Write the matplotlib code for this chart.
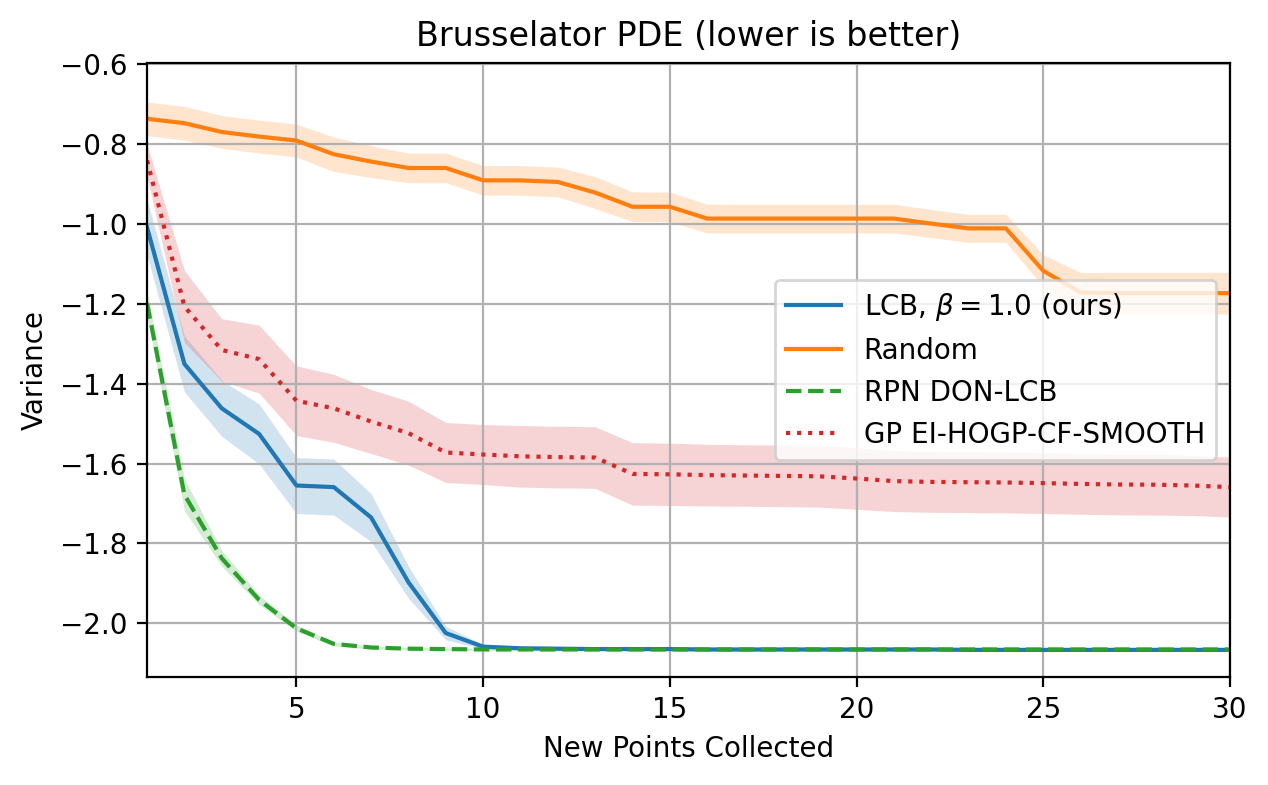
import matplotlib
matplotlib.use("Agg")
import matplotlib.pyplot as plt
import numpy as np

x = np.arange(1, 31)

lcb_mean = [-1.01, -1.351, -1.462, -1.526, -1.655, -1.659, -1.735, -1.897, -2.024, -2.058,
            -2.062, -2.063, -2.064, -2.064, -2.064, -2.065, -2.065, -2.065, -2.065, -2.065,
            -2.065, -2.065, -2.066, -2.066, -2.066, -2.066, -2.066, -2.066, -2.066, -2.066]
lcb_std = [0.07, 0.07, 0.07, 0.075, 0.07, 0.07, 0.06, 0.04, 0.017, 0.005,
           0.004, 0.004, 0.004, 0.004, 0.004, 0.004, 0.004, 0.004, 0.004, 0.004,
           0.004, 0.004, 0.004, 0.004, 0.004, 0.004, 0.004, 0.004, 0.004, 0.004]

rand_mean = [-0.738, -0.749, -0.771, -0.7825, -0.7925, -0.8267, -0.845, -0.861, -0.861, -0.892,
             -0.892, -0.896, -0.9225, -0.958, -0.958, -0.9875, -0.9875, -0.9875, -0.9875, -0.9875,
             -0.9875, -1.0, -1.012, -1.012, -1.118, -1.1725, -1.174, -1.174, -1.174, -1.174]
rand_std = [0.042, 0.042, 0.041, 0.041, 0.041, 0.043, 0.04, 0.037, 0.037, 0.037,
            0.037, 0.037, 0.04, 0.037, 0.037, 0.036, 0.036, 0.036, 0.036, 0.036,
            0.036, 0.035, 0.035, 0.035, 0.04, 0.05, 0.052, 0.052, 0.052, 0.052]

rpn_mean = [-1.2, -1.678, -1.837, -1.941, -2.012, -2.051, -2.06, -2.063, -2.064, -2.065,
            -2.065, -2.065, -2.065, -2.065, -2.065, -2.065, -2.065, -2.065, -2.065, -2.065,
            -2.065, -2.065, -2.065, -2.065, -2.065, -2.065, -2.065, -2.065, -2.065, -2.065]
rpn_std = [0.03, 0.04, 0.02, 0.012, 0.008, 0.005, 0.004, 0.003, 0.003, 0.003,
           0.003, 0.003, 0.003, 0.003, 0.003, 0.003, 0.003, 0.003, 0.003, 0.003,
           0.003, 0.003, 0.003, 0.003, 0.003, 0.003, 0.003, 0.003, 0.003, 0.003]

gp_mean = [-0.842, -1.2075, -1.316, -1.339, -1.443, -1.462, -1.495, -1.524, -1.5725, -1.5775,
           -1.582, -1.584, -1.585, -1.626, -1.627, -1.629, -1.630, -1.631, -1.632, -1.6375,
           -1.644, -1.646, -1.6467, -1.6475, -1.649, -1.651, -1.6525, -1.653, -1.655, -1.659]
gp_std = [0.04, 0.09, 0.078, 0.085, 0.087, 0.085, 0.08, 0.08, 0.075, 0.075,
          0.077, 0.077, 0.077, 0.078, 0.078, 0.077, 0.077, 0.077, 0.077, 0.077,
          0.076, 0.076, 0.076, 0.076, 0.076, 0.076, 0.076, 0.076, 0.075, 0.075]

labels = [r"LCB, $\beta = 1.0$ (ours)", "Random", "RPN DON-LCB", "GP EI-HOGP-CF-SMOOTH"]

fig = plt.figure(figsize=(6.34, 3.925), dpi=200)
ax = fig.add_axes([0.116, 0.138, 0.854, 0.782])

series = [
    (lcb_mean, lcb_std, "C0", "-"),
    (rand_mean, rand_std, "C1", "-"),
    (rpn_mean, rpn_std, "C2", "--"),
    (gp_mean, gp_std, "C3", ":"),
]
for (m, s, c, ls), lab in zip(series, labels):
    m = np.array(m); s = np.array(s)
    ax.plot(x, m, color=c, linestyle=ls, linewidth=1.5, label=lab)
    ax.fill_between(x, m - s, m + s, color=c, alpha=0.2, linewidth=0)

ax.set_xlim(1, 30)
ax.set_ylim(-2.133, -0.598)
ax.set_xticks([5, 10, 15, 20, 25, 30])
ax.grid(True)
ax.set_title("Brusselator PDE (lower is better)")
ax.set_xlabel("New Points Collected")
ax.set_ylabel("Variance")
ax.legend(loc="center right")

fig.savefig("out.png", dpi=200)
